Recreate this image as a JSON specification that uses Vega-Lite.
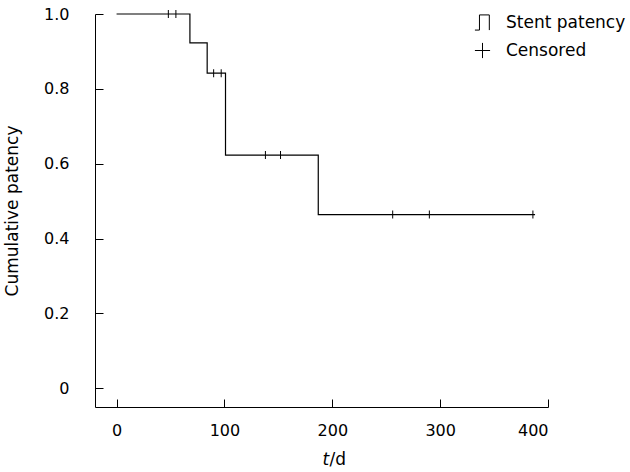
{
  "$schema": "https://vega.github.io/schema/vega-lite/v6.json",
  "width": 453,
  "height": 393,
  "padding": {"left": 3, "top": 6, "right": 0, "bottom": 3},
  "background": "white",
  "config": {
    "view": {"stroke": null},
    "font": "DejaVu Sans",
    "axis": {
      "grid": false,
      "domainColor": "#000000",
      "tickColor": "#000000",
      "labelColor": "#000000",
      "titleColor": "#000000",
      "labelFont": "DejaVu Sans",
      "titleFont": "DejaVu Sans",
      "labelFontSize": 16,
      "titleFontSize": 17,
      "titleFontWeight": "normal",
      "domainWidth": 1,
      "tickWidth": 1
    }
  },
  "resolve": {"axis": {"x": "independent", "y": "independent"}},
  "datasets": {
    "curve": [
      {"t": 0, "p": 1.0},
      {"t": 68, "p": 0.923},
      {"t": 84, "p": 0.842},
      {"t": 101, "p": 0.623},
      {"t": 187, "p": 0.464},
      {"t": 388, "p": 0.464}
    ],
    "censored": [
      {"t": 48, "p": 1.0},
      {"t": 55, "p": 1.0},
      {"t": 90, "p": 0.842},
      {"t": 97, "p": 0.842},
      {"t": 138, "p": 0.623},
      {"t": 152, "p": 0.623},
      {"t": 256, "p": 0.464},
      {"t": 290, "p": 0.464},
      {"t": 386, "p": 0.464}
    ]
  },
  "layer": [
    {
      "data": {"name": "curve"},
      "mark": {"type": "line", "interpolate": "step-after", "strokeWidth": 1.2},
      "encoding": {
        "x": {
          "field": "t", "type": "quantitative",
          "scale": {"domain": [-20, 400], "nice": false, "zero": false},
          "axis": {"orient": "bottom", "values": [0, 100, 200, 300, 400], "ticks": false, "title": "/d",
            "labelPadding": 15, "titleAlign": "left", "titleBaseline": "alphabetic", "titleX": 234, "titleY": 57}
        },
        "y": {
          "field": "p", "type": "quantitative",
          "scale": {"domain": [-0.05, 1], "nice": false, "zero": false},
          "axis": {"orient": "left", "values": [0, 0.2, 0.4, 0.6, 0.8, 1.0], "ticks": false, "title": "Cumulative patency",
            "labelPadding": 26, "titlePadding": 22,
            "labelExpr": "datum.value == 0 ? '0' : format(datum.value, '.1f')"}
        },
        "color": {
          "datum": "Stent patency",
          "scale": {"domain": ["Stent patency", "Censored"], "range": ["#000000", "#000000"]},
          "legend": {
            "title": null,
            "orient": "none",
            "legendX": 379,
            "legendY": 0,
            "labelFont": "DejaVu Sans",
            "labelFontSize": 17,
            "labelColor": "#000000",
            "rowPadding": 7,
            "symbolSize": 230,
            "labelOffset": 15,
            "symbolFillColor": "transparent",
            "symbolStrokeColor": "#000000",
            "symbolStrokeWidth": 1,
            "encode": {
              "symbols": {
                "update": {
                  "shape": {"signal": "datum.value == 'Censored' ? 'M-1,0H1M0,-1V1' : 'M-1,1H-0.4V-1H0.9V1'"},
                  "stroke": {"value": "#000000"},
                  "fill": {"value": "transparent"},
                  "fillOpacity": {"value": 0},
                  "strokeWidth": {"value": 1},
                  "opacity": {"value": 1}
                }
              }
            }
          }
        }
      }
    },
    {
      "data": {"name": "censored"},
      "mark": {"type": "tick", "orient": "vertical", "size": 8, "thickness": 1, "opacity": 1},
      "encoding": {
        "x": {
          "field": "t", "type": "quantitative",
          "axis": {"orient": "bottom", "offset": -8, "values": [0, 100, 200, 300, 400], "domain": false, "labels": false,
            "ticks": true, "tickSize": 8, "title": "t", "titleFontStyle": "italic", "titleAlign": "left",
            "titleBaseline": "alphabetic", "titleX": 227, "titleY": 65}
        },
        "y": {
          "field": "p", "type": "quantitative",
          "axis": {"orient": "left", "offset": -8, "values": [0, 0.2, 0.4, 0.6, 0.8, 1.0], "domain": false, "labels": false,
            "ticks": true, "tickSize": 8, "title": null}
        },
        "color": {"datum": "Censored"}
      }
    }
  ]
}
